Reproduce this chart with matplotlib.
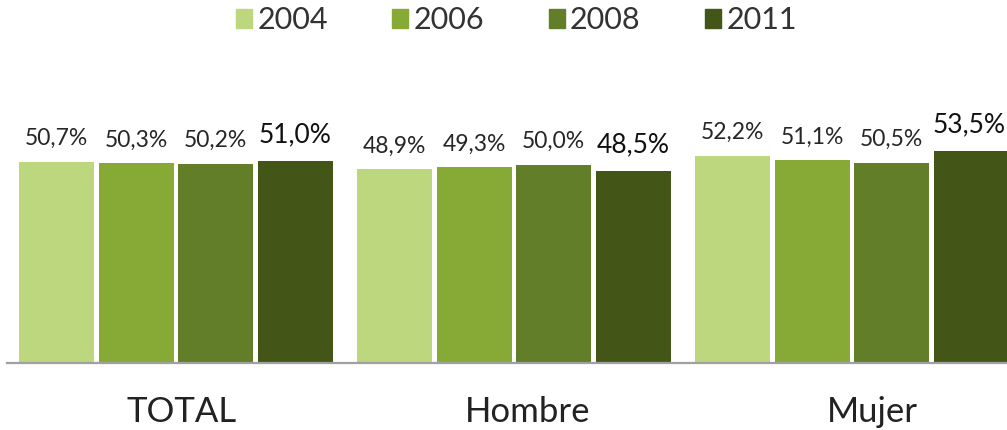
import numpy as np
import matplotlib.pyplot as plt
import matplotlib.transforms as mtransforms
from matplotlib.patches import Patch

# datos
categorias = ['TOTAL', 'Hombre', 'Mujer']
anios = ['2004', '2006', '2008', '2011']
v2004 = [50.7, 48.9, 52.2]
v2006 = [50.3, 49.3, 51.1]
v2008 = [50.2, 50.0, 50.5]
v2011 = [51.0, 48.5, 53.5]
colores = ['#BDD77E', '#86AA35', '#627E28', '#435618']

series = [v2004, v2006, v2008, v2011]

plt.rcParams['font.family'] = ['Lato', 'DejaVu Sans']

fig = plt.figure(figsize=(10.07, 4.30), dpi=100)
# eje un poco mas ancho que la figura (la imagen original esta recortada)
ax = fig.add_axes([7/1007, 67/430, 1014/1007, 238/430])

x = np.arange(len(categorias))
ancho = 0.222
paso = 0.2355
for i, vals in enumerate(series):
    pos = x + (i - 1.5) * paso
    ax.bar(pos, vals, width=ancho, color=colores[i])
    for j, (p, v) in enumerate(zip(pos, vals)):
        txt = f'{v:.1f}%'.replace('.', ',')
        if i == 3:
            dx = -2 if j == 2 else 0
            ax.annotate(txt, (p, v), xytext=(dx, 13.5), textcoords='offset points',
                        ha='center', va='baseline', fontsize=19, color='#111111',
                        annotation_clip=False)
        else:
            ax.annotate(txt, (p, v), xytext=(0, 12), textcoords='offset points',
                        ha='center', va='baseline', fontsize=16.5, color='#262626',
                        annotation_clip=False)

ax.set_xlim(-0.5, 2.5)
ax.set_ylim(0, 60)
ax.set_xticks(x)
ax.set_xticklabels(categorias, fontsize=25, color='#222222')
ax.tick_params(axis='x', length=0, pad=24)
# las etiquetas del original estan un poco desplazadas a la derecha
for lab, d in zip(ax.get_xticklabels(), [6, 14, 20]):
    lab.set_transform(lab.get_transform() +
                      mtransforms.ScaledTranslation(d / 100, 0, fig.dpi_scale_trans))
ax.set_yticks([])
for s in ['top', 'right', 'left']:
    ax.spines[s].set_visible(False)
ax.spines['bottom'].set_color('#a0a0a0')
ax.spines['bottom'].set_linewidth(1.6)

handles = [Patch(color=c, label=a) for c, a in zip(colores, anios)]
fig.legend(handles=handles, loc='center', bbox_to_anchor=(0.513, 1 - 20/430),
           ncol=4, frameon=False, fontsize=22, handlelength=0.52, handleheight=0.6,
           handletextpad=0.18, columnspacing=2.1, labelcolor='#333333')

plt.savefig('out.png', dpi=100)
